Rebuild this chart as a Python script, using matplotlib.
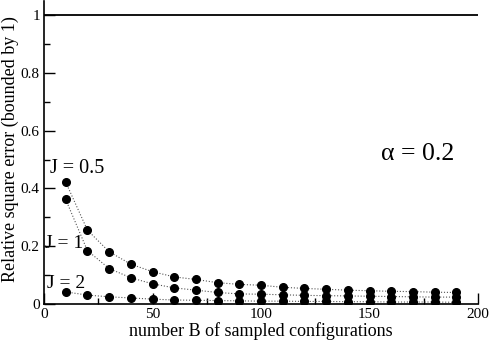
import matplotlib.pyplot as plt
from matplotlib.ticker import MultipleLocator, FixedLocator, FixedFormatter

plt.rcParams['font.family'] = ['Liberation Serif', 'DejaVu Serif']

# number of sampled configurations
B = [10, 20, 30, 40, 50, 60, 70, 80, 90, 100,
     110, 120, 130, 140, 150, 160, 170, 180, 190]

# relative square error for each coupling J
err_j05 = [0.422, 0.256, 0.181, 0.138, 0.112, 0.094, 0.085, 0.074, 0.068, 0.065,
           0.058, 0.054, 0.051, 0.048, 0.046, 0.044, 0.043, 0.041, 0.040]
err_j1 = [0.362, 0.185, 0.123, 0.091, 0.070, 0.056, 0.048, 0.040, 0.035, 0.034,
          0.032, 0.030, 0.029, 0.028, 0.027, 0.026, 0.025, 0.024, 0.024]
err_j2 = [0.042, 0.031, 0.025, 0.021, 0.017, 0.014, 0.013, 0.012, 0.011, 0.010,
          0.010, 0.009, 0.009, 0.008, 0.008, 0.007, 0.007, 0.007, 0.006]

bound_x = [0, 200]
bound_y = [1, 1]

fig = plt.figure(figsize=(4.91, 3.42), dpi=100)
ax = fig.add_axes([0.0896, 0.111, 0.884, 0.887])

ax.plot(bound_x, bound_y, color='black', lw=1.3)
for err in (err_j05, err_j1, err_j2):
    ax.plot(B, err, ls=':', color='#555555', lw=0.8,
            marker='o', ms=5.5, mfc='black', mec='black')

ax.set_xlim(0, 200)
ax.set_ylim(0, 1.05)

for s in ('top', 'right'):
    ax.spines[s].set_visible(False)
ax.spines['left'].set_linewidth(1.2)
ax.spines['bottom'].set_linewidth(1.2)

ax.xaxis.set_major_locator(MultipleLocator(50))
ax.xaxis.set_minor_locator(MultipleLocator(25))
ax.yaxis.set_major_locator(FixedLocator([0, 0.2, 0.4, 0.6, 0.8, 1.0]))
ax.yaxis.set_major_formatter(FixedFormatter(['0', '0.2', '0.4', '0.6', '0.8', '1']))
ax.yaxis.set_minor_locator(FixedLocator([0.1, 0.3, 0.5, 0.7, 0.9]))
ax.tick_params(which='both', direction='in', labelsize=11, width=1)
ax.tick_params(which='major', length=8, pad=3)
ax.tick_params(which='minor', length=4)

ax.set_xlabel('number B of sampled configurations', fontsize=13, labelpad=1)
ax.set_ylabel('Relative square error (bounded by 1)', fontsize=13)
ax.yaxis.set_label_coords(-0.058, 0.51)

ax.text(2.8, 0.455, 'J = 0.5', fontsize=14.5)
ax.text(0.5, 0.195, 'J = 1', fontsize=14)
ax.text(1.5, 0.055, 'J = 2', fontsize=14)
ax.text(155.5, 0.5, '\u03b1 = 0.2', fontsize=18.5)

fig.savefig('out.png', dpi=100)
